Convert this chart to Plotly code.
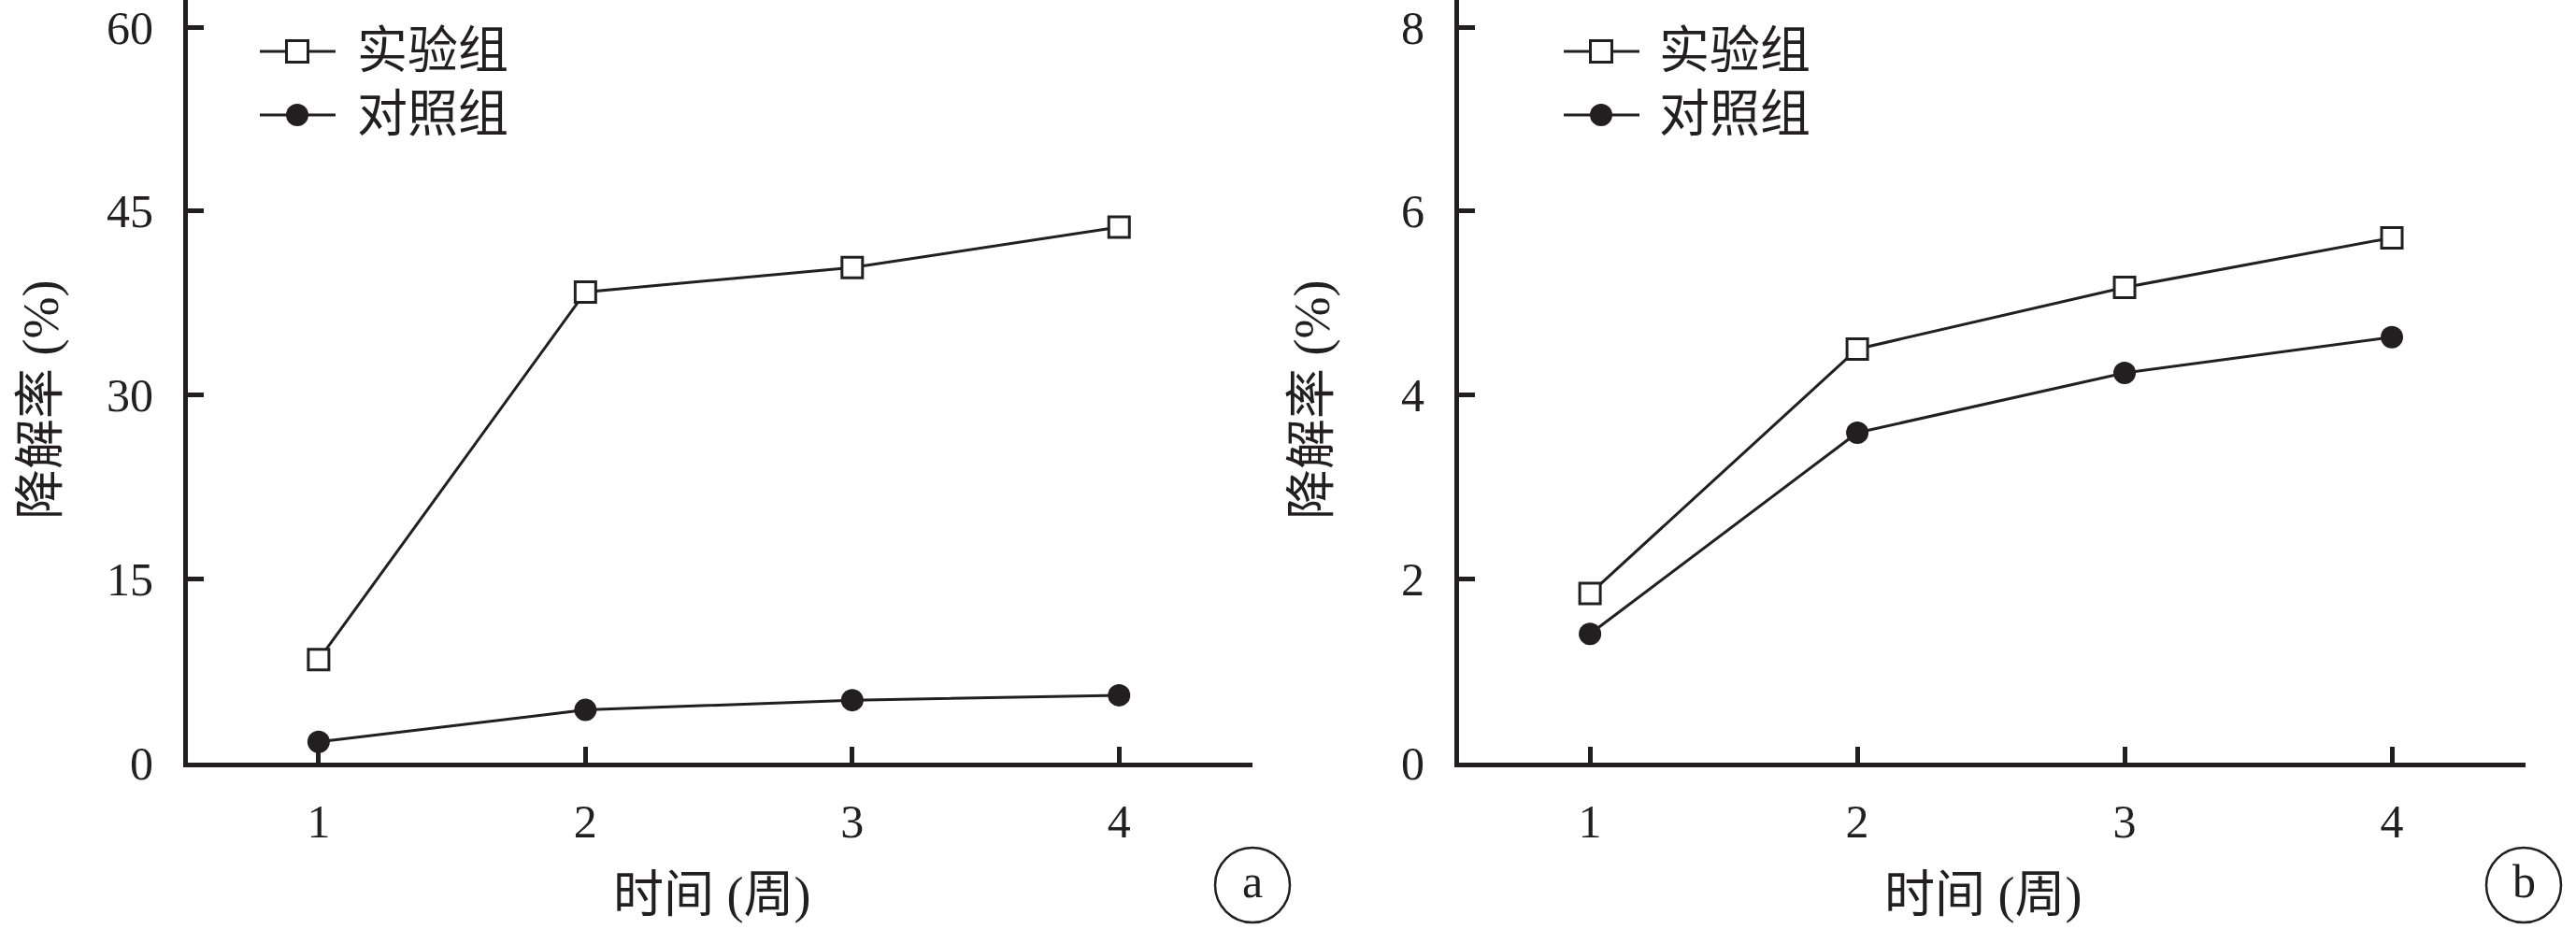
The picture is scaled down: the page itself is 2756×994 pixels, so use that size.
import plotly.graph_objects as go

# ---- data -------------------------------------------------------------
weeks = [1, 2, 3, 4]
week_labels = ["1", "2", "3", "4"]

# panel a: degradation rate (%)
exp_a = [8.4, 38.4, 40.4, 43.7]
ctrl_a = [1.7, 4.3, 5.1, 5.5]
yticks_a = [0, 15, 30, 45, 60]

# panel b: degradation rate (%)
exp_b = [1.84, 4.50, 5.17, 5.71]
ctrl_b = [1.40, 3.59, 4.24, 4.63]
yticks_b = [0, 2, 4, 6, 8]

series_names = ["实验组", "对照组"]
x_title = "时间 (周)"
y_title = "降解率 (%)"
panel_tags = ["a", "b"]

# ---- styling ----------------------------------------------------------
W, H = 2756, 994
INK = "#231f20"
FONT = "Liberation Serif, Noto Sans CJK SC, serif"


def px_x(p):
    return p / W


def px_y(p):
    return 1 - p / H


fig = go.Figure()

panels = [
    dict(xa="x", ya="y", exp=exp_a, ctrl=ctrl_a),
    dict(xa="x2", ya="y2", exp=exp_b, ctrl=ctrl_b),
]

for p in panels:
    fig.add_trace(go.Scatter(
        x=weeks, y=p["exp"], xaxis=p["xa"], yaxis=p["ya"],
        name=series_names[0], mode="lines+markers",
        line=dict(color=INK, width=3),
        marker=dict(symbol="square", size=22, color="white",
                    line=dict(color=INK, width=3)),
        showlegend=False, cliponaxis=False,
    ))
    fig.add_trace(go.Scatter(
        x=weeks, y=p["ctrl"], xaxis=p["xa"], yaxis=p["ya"],
        name=series_names[1], mode="lines+markers",
        line=dict(color=INK, width=3),
        marker=dict(symbol="circle", size=24, color=INK,
                    line=dict(color=INK, width=0)),
        showlegend=False, cliponaxis=False,
    ))

axis_common = dict(
    showline=True, linecolor=INK, linewidth=5,
    ticks="inside", ticklen=17, tickwidth=5, tickcolor=INK,
    showgrid=False, zeroline=False, automargin=False,
    tickfont=dict(family=FONT, size=50, color=INK),
)

# plot-area pixel extents for each panel
y_bottom, y_top = 816.0, 0.0
left_a, right_a = 201, 1340
left_b, right_b = 1561, 2702

fig.update_layout(
    template="none",
    width=W, height=H, autosize=False,
    margin=dict(l=0, r=0, t=0, b=0, pad=0),
    paper_bgcolor="white", plot_bgcolor="white",
    xaxis=dict(domain=[px_x(left_a), px_x(right_a)], range=[0.51, 4.5],
               tickvals=weeks, ticktext=week_labels, anchor="y",
               ticklabelstandoff=15, **axis_common),
    yaxis=dict(domain=[px_y(y_bottom), px_y(y_top)], range=[0, 62.23],
               tickvals=yticks_a, anchor="x",
               ticklabelstandoff=22, **axis_common),
    xaxis2=dict(domain=[px_x(left_b), px_x(right_b)], range=[0.51, 4.5],
                tickvals=weeks, ticktext=week_labels, anchor="y2",
                ticklabelstandoff=15, **axis_common),
    yaxis2=dict(domain=[px_y(y_bottom), px_y(y_top)], range=[0, 8.297],
                tickvals=yticks_b, anchor="x2",
                ticklabelstandoff=22, **axis_common),
)

shapes = []
annotations = []

# hand-drawn legend blocks (one per panel)
legend_blocks = [
    dict(x0=278, x1=359, xm=318, xt=380),
    dict(x0=1673, x1=1754, xm=1713, xt=1773),
]
rows_y = [55, 123]
for lb in legend_blocks:
    for i, ry in enumerate(rows_y):
        shapes.append(dict(type="line", xref="paper", yref="paper",
                           x0=px_x(lb["x0"]), x1=px_x(lb["x1"]),
                           y0=px_y(ry), y1=px_y(ry),
                           line=dict(color=INK, width=3)))
        if i == 0:
            shapes.append(dict(type="rect", xref="paper", yref="paper",
                               x0=px_x(lb["xm"] - 11.5), x1=px_x(lb["xm"] + 11.5),
                               y0=px_y(ry + 11.5), y1=px_y(ry - 11.5),
                               fillcolor="white", line=dict(color=INK, width=3)))
        else:
            shapes.append(dict(type="circle", xref="paper", yref="paper",
                               x0=px_x(lb["xm"] - 12), x1=px_x(lb["xm"] + 12),
                               y0=px_y(ry + 12), y1=px_y(ry - 12),
                               fillcolor=INK, line=dict(color=INK, width=0)))
        annotations.append(dict(text=series_names[i], xref="paper", yref="paper",
                                x=px_x(lb["xt"]), y=px_y(ry), xanchor="left",
                                yanchor="middle", showarrow=False,
                                font=dict(family=FONT, size=54, color=INK)))

# axis titles and panel tags
for off, tag in zip([0, 1360], panel_tags):
    annotations.append(dict(text=x_title, xref="paper", yref="paper",
                            x=px_x(761 + off), y=px_y(958), xanchor="center",
                            yanchor="middle", showarrow=False,
                            font=dict(family=FONT, size=54, color=INK)))
    annotations.append(dict(text=y_title, xref="paper", yref="paper",
                            x=px_x(44 + off), y=px_y(428), xanchor="center",
                            yanchor="middle", showarrow=False, textangle=-90,
                            font=dict(family=FONT, size=54, color=INK)))
    cx, cy, r = 1340 + off, 947, 40
    shapes.append(dict(type="circle", xref="paper", yref="paper",
                       x0=px_x(cx - r), x1=px_x(cx + r),
                       y0=px_y(cy + r), y1=px_y(cy - r),
                       line=dict(color=INK, width=2.5)))
    annotations.append(dict(text=tag, xref="paper", yref="paper",
                            x=px_x(cx), y=px_y(cy - 4), xanchor="center",
                            yanchor="middle", showarrow=False,
                            font=dict(family=FONT, size=50, color=INK)))

fig.update_layout(shapes=shapes, annotations=annotations)

fig.write_html("out.html")
